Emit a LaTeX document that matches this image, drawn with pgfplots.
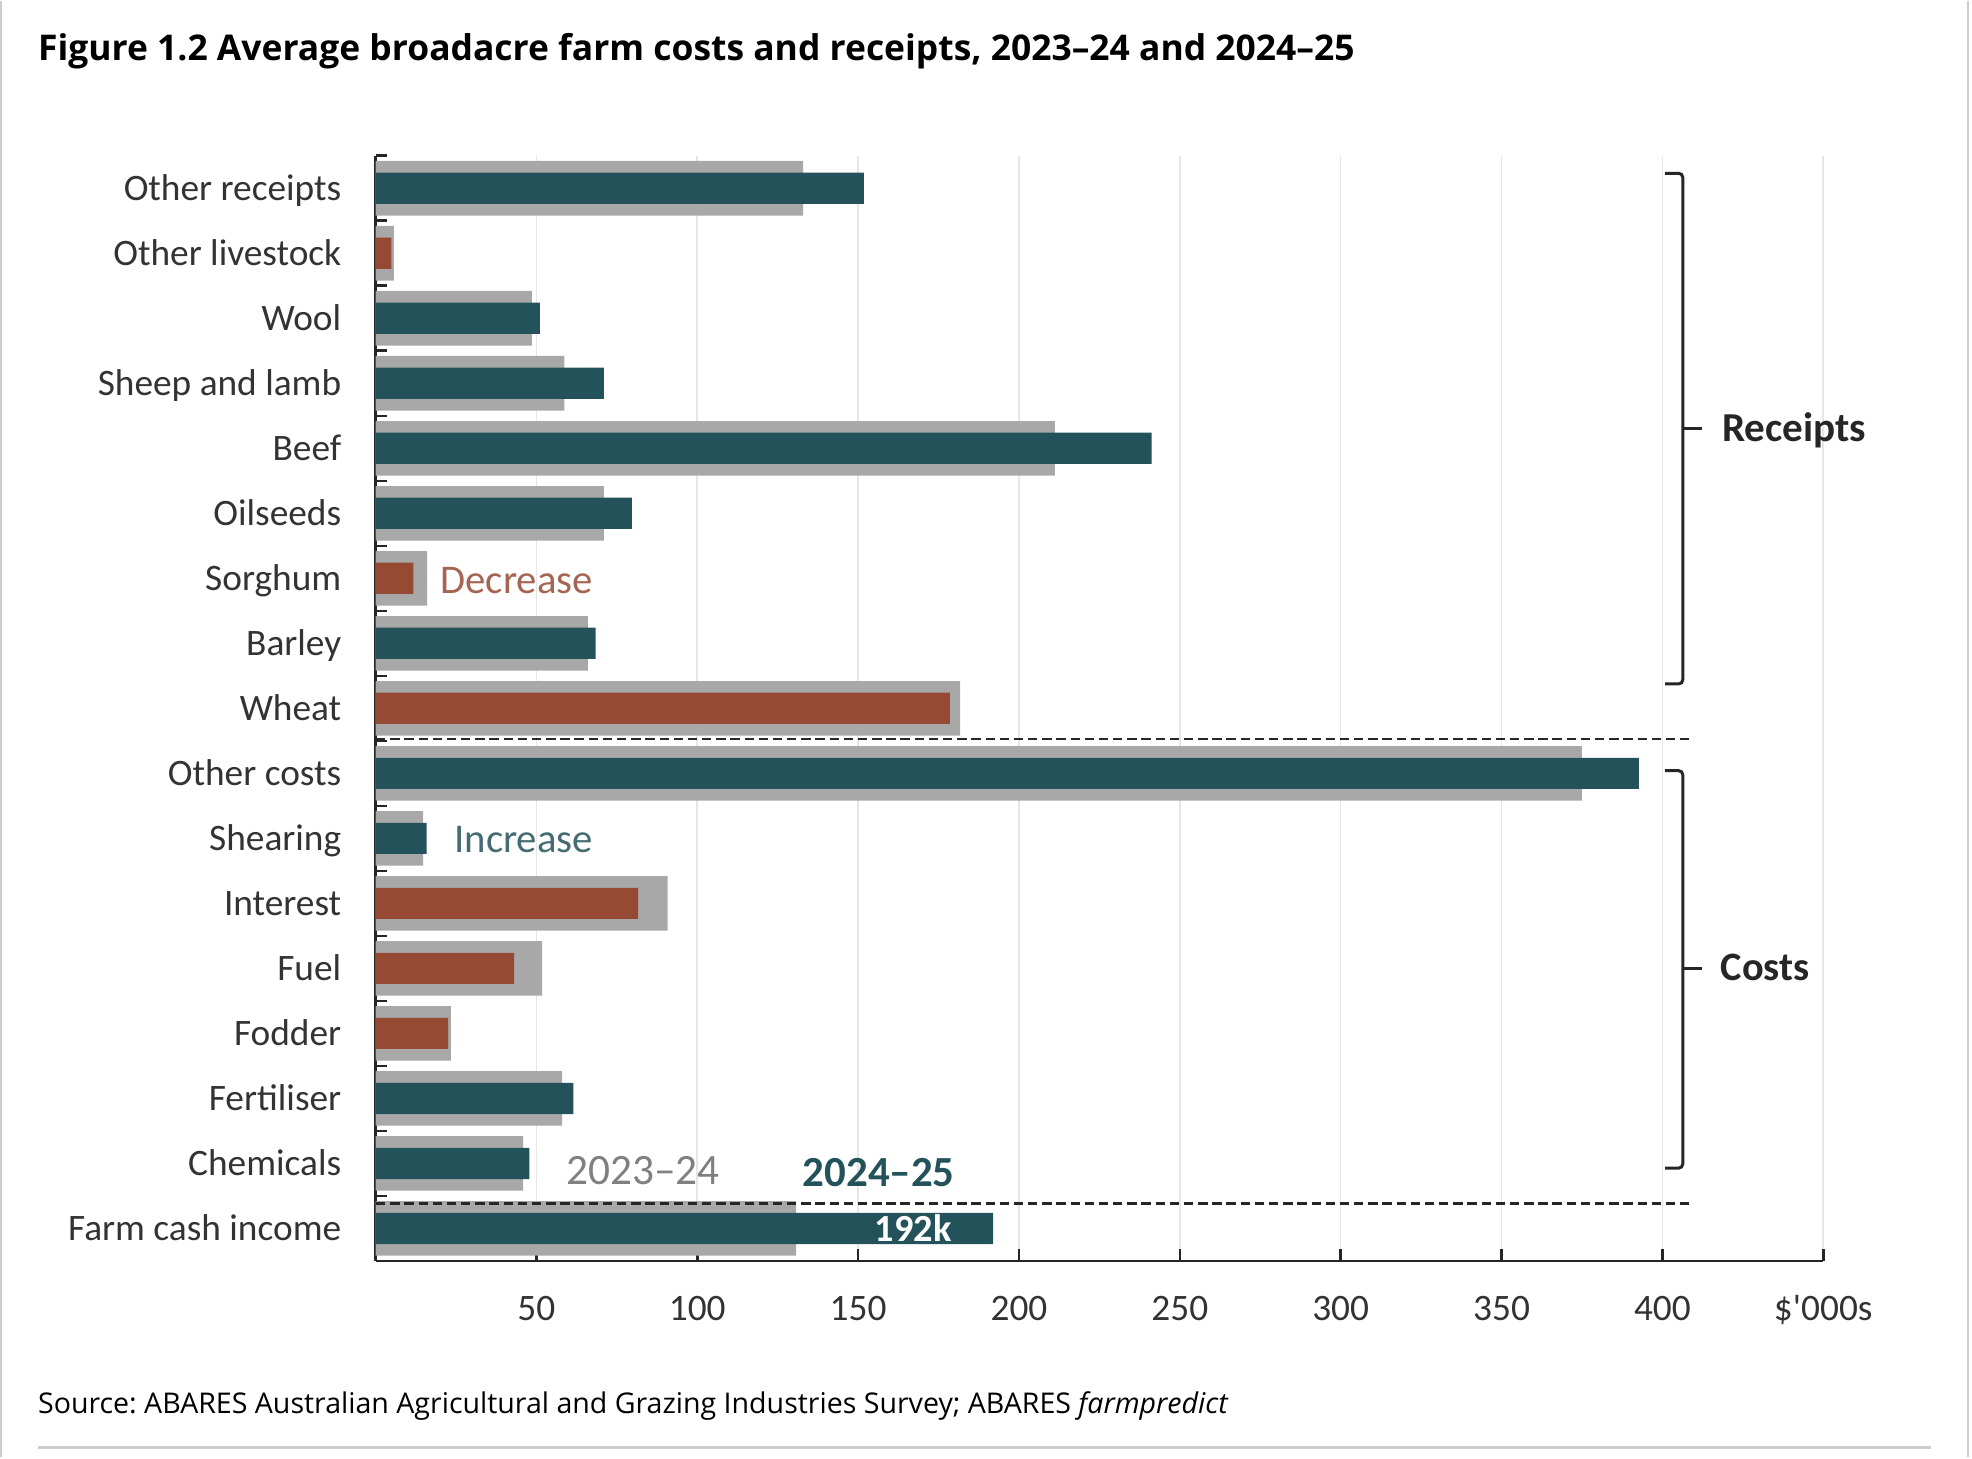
\documentclass[border=0pt]{standalone}
\usepackage{fontspec}
\setmainfont{Carlito}
\newfontfamily\opensans{Open Sans}
\usepackage{pgfplots}
\pgfplotsset{compat=1.18}
\definecolor{cTeal}{HTML}{24525A}
\definecolor{cRust}{HTML}{964A33}
\definecolor{cGray}{HTML}{A8A8A8}
\definecolor{cTxt}{HTML}{333333}
\definecolor{cGrid}{HTML}{E6E6E6}
\definecolor{cFrame}{HTML}{CDCDCD}
\newcommand{\lab}{\fontsize{18.7bp}{21bp}\selectfont}
\frenchspacing
\begin{document}
\begin{tikzpicture}
\begin{scope}[x=0.63bp,y=-0.63bp]
\path[use as bounding box, fill=white] (0,0) rectangle (1568,1158);
\end{scope}
\begin{axis}[
  at={({298.6*0.63bp},{-1001.8*0.63bp})}, anchor=south west,
  scale only axis, width=725.2bp, height=553.6bp,
  xmin=0, xmax=450, ymin=-0.5, ymax=16.5,
  axis lines=left, axis line style={-, line width=1.4bp, draw=black!85},
  xtick={50,100,...,450},
  xticklabels={50,100,150,200,250,300,350,400,\$\textquotesingle000s},
  ytick={-0.5,0.5,...,16.5},
  yticklabels={Farm cash income, Chemicals, Fertiliser, Fodder, Fuel, Interest, Shearing, Other costs, Wheat, Barley, Sorghum, Oilseeds, Beef, Sheep and lamb, Wool, Other livestock, Other receipts,{}},
  tick align=inside, major tick length=5.8bp,
  tick style={draw=black!85, line width=1.3bp},
  xmajorgrids, major grid style={draw=cGrid, line width=0.8bp},
  xticklabel style={font=\lab, text=cTxt, anchor=base, inner sep=0pt, yshift=-30bp},
  yticklabel style={font=\lab, text=cTxt, anchor=base east, inner sep=0pt, xshift=-17bp, yshift=10.3bp},
  clip=false,
]
\addplot[xbar, bar shift=0pt, bar width=0.84, fill=cGray, draw=none] coordinates {
 (130.7,0) (45.9,1) (58.0,2) (23.4,3) (51.8,4) (90.8,5) (14.8,6) (375,7)
 (181.7,8) (66,9) (16,10) (71,11) (211.2,12) (58.7,13) (48.6,14) (5.7,15) (132.9,16)};
\addplot[xbar, bar shift=0pt, bar width=0.48, fill=cTeal, draw=none] coordinates {
 (192,0) (47.8,1) (61.5,2) (15.9,6) (392.7,7) (68.4,9) (79.7,11) (241.2,12)
 (71,13) (51.1,14) (151.8,16)};
\addplot[xbar, bar shift=0pt, bar width=0.48, fill=cRust, draw=none] coordinates {
 (22.6,3) (43.1,4) (81.6,5) (178.5,8) (11.8,10) (4.9,15)};
\end{axis}
\begin{scope}[x=0.63bp,y=-0.63bp]
% frame
\draw[cFrame, line width=1bp] (1,0) -- (1,1158);
\draw[cFrame, line width=1bp] (1565,0) -- (1565,1158);
\draw[cFrame, line width=1.4bp] (30,1150) -- (1535,1150);
% title and source
\node[anchor=base west, inner sep=0pt, font=\opensans\bfseries\fontsize{17.75bp}{20bp}\selectfont] at (30,47)
  {Figure 1.2 Average broadacre farm costs and receipts, 2023–24 and 2024–25};
\node[anchor=base west, inner sep=0pt, font=\opensans\fontsize{14.3bp}{17bp}\selectfont] at (30,1123)
  {Source: ABARES Australian Agricultural and Grazing Industries Survey; ABARES \textit{farmpredict}};
% dashed separators
\draw[black!85, line width=1.2bp, dash pattern=on 4.7bp off 2.4bp] (299,587) -- (1345,587);
\draw[black!85, line width=1.2bp, dash pattern=on 4.7bp off 2.4bp] (299,956) -- (1347,956);
% braces
\draw[black!85, line width=1.5bp, rounded corners=2bp] (1324,137) -- (1338,137) -- (1338,543) -- (1324,543);
\draw[black!85, line width=1.5bp] (1338,340) -- (1353,340);
\draw[black!85, line width=1.5bp, rounded corners=2bp] (1324,612) -- (1338,612) -- (1338,928) -- (1324,928);
\draw[black!85, line width=1.5bp] (1338,769) -- (1353,769);
\node[anchor=base west, inner sep=0pt, font=\bfseries\fontsize{20.6bp}{24bp}\selectfont, text=black!85] at (1369,350) {Receipts};
\node[anchor=base west, inner sep=0pt, font=\bfseries\fontsize{20.2bp}{24bp}\selectfont, text=black!85] at (1368,779) {Costs};
% annotations
\node[anchor=base west, inner sep=0pt, font=\fontsize{20.4bp}{24bp}\selectfont, text=cRust!85] at (350,471) {Decrease};
\node[anchor=base west, inner sep=0pt, font=\fontsize{20.4bp}{24bp}\selectfont, text=cTeal!85] at (361,677) {Increase};
\node[anchor=base west, inner sep=0pt, font=\fontsize{21.7bp}{24bp}\selectfont, text=black!50] at (450,941) {2023–24};
\node[anchor=base west, inner sep=0pt, font=\bfseries\fontsize{21.5bp}{24bp}\selectfont, text=cTeal] at (638,943) {2024–25};
\node[anchor=base, inner sep=0pt, font=\bfseries\fontsize{19.2bp}{22bp}\selectfont, text=white] at (726,986) {192k};
\end{scope}
\end{tikzpicture}
\end{document}
